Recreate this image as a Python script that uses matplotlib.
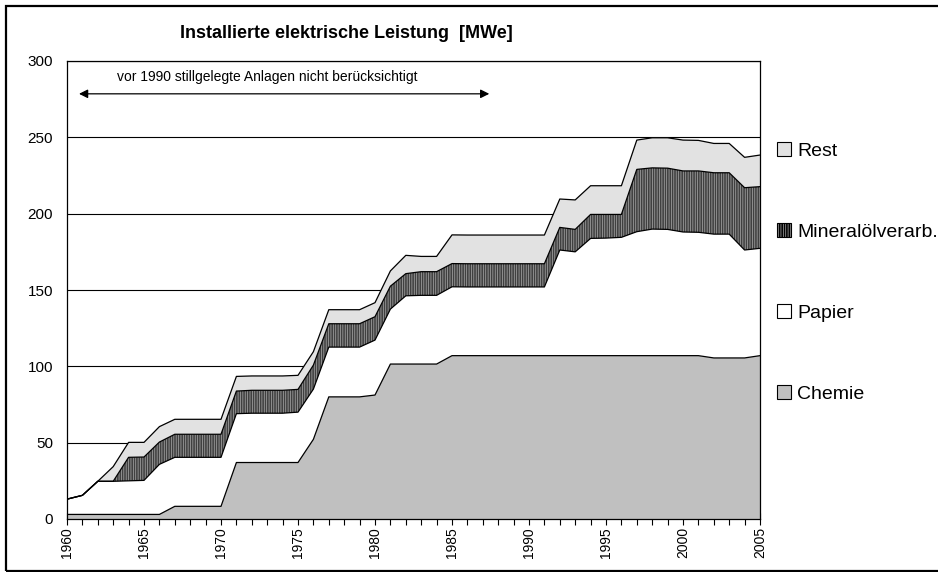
import numpy as np
import matplotlib
matplotlib.use("Agg")
import matplotlib.pyplot as plt
from matplotlib.patches import Patch, Rectangle

plt.rcParams["font.family"] = ["Liberation Sans", "DejaVu Sans"]
plt.rcParams["hatch.linewidth"] = 1.2

# Jahre und installierte Leistung je Branche [MWe]
years = list(range(1960, 2006))

chemie = [3, 3, 3, 3, 3, 3, 3,
          8.3, 8.3, 8.3, 8.3,
          37, 37, 37, 37, 37,
          52.2, 80, 80, 80, 81.2,
          101.5, 101.5, 101.5, 101.5,
          107, 107, 107, 107, 107, 107, 107, 107, 107, 107, 107, 107, 107, 107, 107, 107, 107,
          105.5, 105.5, 105.5, 107]

papier = [10, 12.5, 21.7, 21.7, 22, 22.3, 32.8, 32.1, 32.1, 32.1, 32.1,
          32, 32.3, 32.3, 32.3, 33, 32.9, 32.6, 32.6, 32.6, 36,
          36, 44.7, 45, 45, 45.1, 45, 45, 45, 45, 45, 45,
          69.2, 68, 76.8, 77, 77.5, 81.2, 82.9, 82.7, 81, 80.8, 81.1, 81.1, 70.7, 70.3]

mineraloel = [0, 0, 0, 0, 15.4, 15.3, 14.6, 15.1, 15.1, 15.1, 15.1,
              14.8, 15, 15, 15, 14.9, 15.7, 15.3, 15.3, 15.3, 15.3,
              15, 14.5, 15.5, 15.5, 15.2, 15.2, 15.2, 15.2, 15.2, 15.2, 15.2,
              14.8, 14.7, 15.7, 15.5, 15, 40.8, 40.1, 40.1, 40, 40.2, 40.2, 40.2, 40.8, 40.4]

rest = [0, 0, 0, 9.6, 9.8, 9.6, 10.1, 9.8, 9.8, 9.8, 9.8,
        9.6, 9.4, 9.4, 9.4, 9.2, 8.8, 9.2, 9.2, 9.2, 9.2,
        10, 12, 10, 10, 18.8, 18.8, 18.8, 18.8, 18.8, 18.8, 18.8,
        18.6, 19.3, 18.8, 18.8, 18.8, 19.2, 19.7, 19.9, 20.2, 20, 19.2, 19.2, 19.9, 20.7]

labels = ["Chemie", "Papier", "Mineralölverarb.", "Rest"]
faces = ["#c0c0c0", "white", "#ababab", "#e2e2e2"]
hatches = [None, None, "|||||||", None]

fig = plt.figure(figsize=(9.38, 5.72), dpi=100)
ax = fig.add_axes([67 / 938, 53 / 572, 693 / 938, 458 / 572])

polys = ax.stackplot(years, chemie, papier, mineraloel, rest, colors=faces, linewidth=0)
for p, h in zip(polys, hatches):
    if h:
        p.set_hatch(h)
        p.set_edgecolor("#404040")

# Trennlinien der Flächen
tops = np.cumsum([chemie, papier, mineraloel, rest], axis=0)
for t in tops:
    ax.plot(years, t, color="black", lw=0.9)

ax.set_xlim(1960, 2005)
ax.set_ylim(0, 300)
ax.set_yticks(range(0, 301, 50))
ax.set_xticks(years)
ax.set_xticklabels([str(y) if y % 5 == 0 else "" for y in years], rotation=90, fontsize=10)
ax.tick_params(axis="x", direction="inout", length=8, width=0.8, pad=2)
ax.tick_params(axis="y", length=0, pad=10, labelsize=11)
ax.grid(axis="y", color="black", lw=0.8)
ax.set_axisbelow(True)
for s in ax.spines.values():
    s.set_linewidth(0.9)

ax.annotate("", xy=(1960.6, 278.5), xytext=(1987.6, 278.5),
            arrowprops=dict(arrowstyle="<|-|>", color="black", lw=0.9, mutation_scale=13))
ax.text(1973.0, 289.5, "vor 1990 stillgelegte Anlagen nicht berücksichtigt",
        ha="center", va="center", fontsize=10)

fig.text(346 / 938, 1 - 34 / 572, "Installierte elektrische Leistung  [MWe]",
         ha="center", va="center", fontsize=13, fontweight="bold")

handles = [Patch(facecolor=f, edgecolor="black", hatch=h, lw=0.8) for f, h in zip(faces, hatches)]
fig.legend(handles[::-1], labels[::-1], loc="center left", bbox_to_anchor=(0.828, 0.524),
           frameon=False, fontsize=14, labelspacing=3.25, handlelength=0.75, handleheight=0.75,
           handletextpad=0.3, borderpad=0, borderaxespad=0)

# Rahmen um die ganze Grafik
fig.patches.append(Rectangle((6 / 938, 1.5 / 572), 1.0, 1 - 7.5 / 572, transform=fig.transFigure,
                             fill=False, edgecolor="black", lw=1.6))

fig.savefig("out.png", dpi=100)
